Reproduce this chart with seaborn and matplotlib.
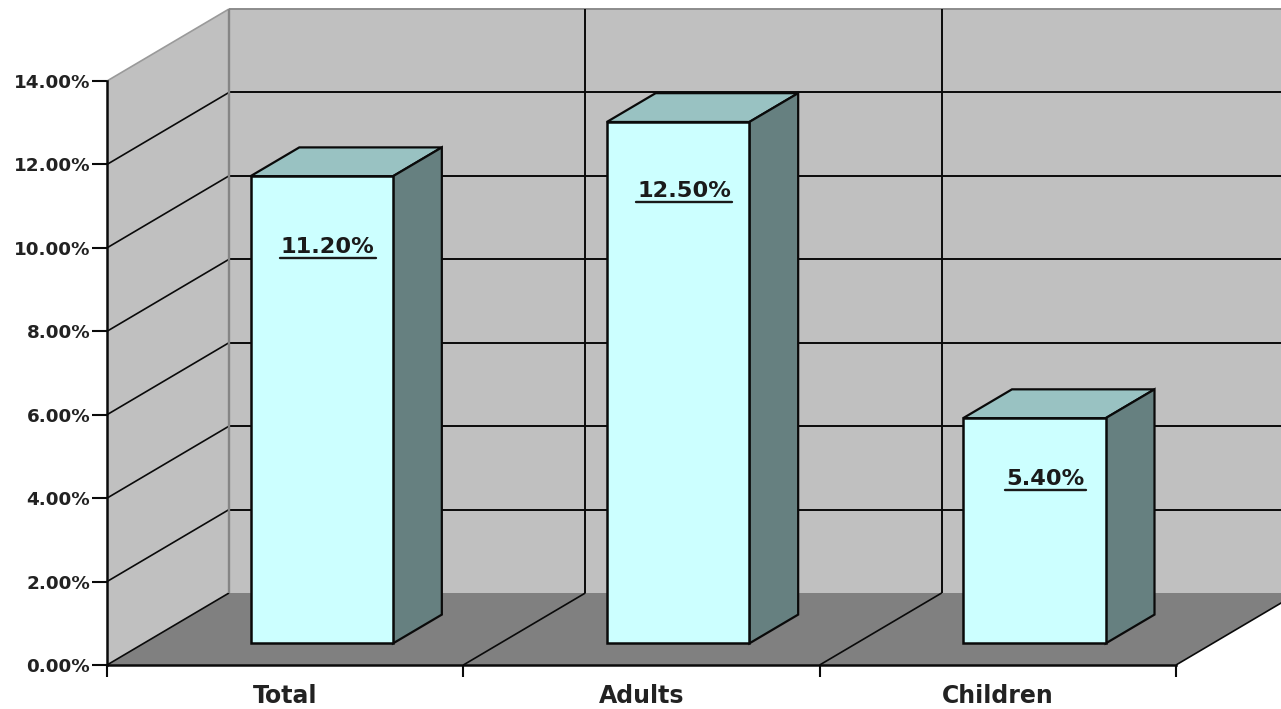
import matplotlib
matplotlib.use("Agg")
import matplotlib.pyplot as plt
import seaborn as sns
import pandas as pd
from matplotlib.patches import Polygon
from matplotlib.lines import Line2D
from matplotlib.transforms import Affine2D, IdentityTransform

categories = ["Total", "Adults", "Children"]
values = [11.2, 12.5, 5.4]
value_labels = ["11.20%", "12.50%", "5.40%"]
y_ticks = [0, 2, 4, 6, 8, 10, 12, 14]

W, H = 1281, 709
FONT = "DejaVu Sans"
BLACK = "#0a0a0a"
WALL = "#C0C0C0"
FLOOR = "#808080"
FRONT = "#CCFFFF"
TOP = "#99C2C2"
SIDE = "#668080"

sns.set_theme(style="white")
plt.rcParams["font.family"] = [FONT]

fig = plt.figure(figsize=(W / 100, H / 100), dpi=100, facecolor="white")
ax = fig.add_axes([107 / W, (H - 665) / H, (1176 - 107) / W, (665 - 81) / H])
ax.patch.set_alpha(0)

df = pd.DataFrame({"category": categories, "value": values})
sns.barplot(data=df, x="category", y="value", color=FRONT, saturation=1, width=0.4,
            edgecolor=BLACK, linewidth=1.8, ax=ax, zorder=5)

ax.set_xlim(-0.5, 2.5)
ax.set_ylim(0, 14)

# depth vector in data units: full depth = 122 px right, 72 px up
DX = 122 / ((1176 - 107) / 3)
DY = 72 / ((665 - 81) / 14)
NEAR, FAR = 0.3, 0.7


def P(x, y, d):
    return (x + d * DX, y + d * DY)


def poly(pts, fc, z, ec="none", lw=0):
    ax.add_patch(Polygon(pts, closed=True, facecolor=fc, edgecolor=ec, linewidth=lw,
                         zorder=z, clip_on=False, joinstyle="miter"))


def line(a, b, color=BLACK, lw=1.4, z=1):
    ax.add_line(Line2D([a[0], b[0]], [a[1], b[1]], color=color, linewidth=lw,
                       zorder=z, clip_on=False, solid_capstyle="butt"))


x0, x1 = ax.get_xlim()
ymax = y_ticks[-1]

# walls and floor
poly([P(x0, 0, 1), P(x1, 0, 1), P(x1, ymax, 1), P(x0, ymax, 1)], WALL, 0.2)
poly([P(x0, 0, 0), P(x0, 0, 1), P(x0, ymax, 1), P(x0, ymax, 0)], WALL, 0.3)
poly([P(x0, 0, 0), P(x1, 0, 0), P(x1, 0, 1), P(x0, 0, 1)], FLOOR, 0.4)

# gridlines on the walls
for y in y_ticks:
    col = "#8c8c8c" if y == ymax else BLACK
    if y > 0:
        line(P(x0, y, 1), P(x1, y, 1), col)
    line(P(x0, y, 0), P(x0, y, 1), "#9a9a9a" if y == ymax else BLACK, 1.2)
for k in range(len(categories) + 1):
    xb = x0 + k
    if k > 0:
        line(P(xb, 0, 0), P(xb, 0, 1), BLACK, 1.2)
    line(P(xb, 0, 1), P(xb, ymax, 1), "#858585" if k == 0 else BLACK, 1.7 if k == 0 else 1.4)

# solid bar faces: seaborn's front bars are pushed back along the depth vector
shift = Affine2D().translate(NEAR * DX, NEAR * DY) + ax.transData
for bar, v in zip(ax.patches, values):
    l, r = bar.get_x(), bar.get_x() + bar.get_width()
    bar.set_transform(shift)
    bar.set_clip_on(False)
    poly([P(l, v, NEAR), P(r, v, NEAR), P(r, v, FAR), P(l, v, FAR)], TOP, 4, BLACK, 1.6)
    poly([P(r, 0, NEAR), P(r, 0, FAR), P(r, v, FAR), P(r, v, NEAR)], SIDE, 4, BLACK, 1.6)

# data labels
label_offsets = [(6, -71), (6, -69), (11, -61)]
texts = []
for i, (v, s) in enumerate(zip(values, value_labels)):
    px, py = P(i, v, NEAR)
    t = ax.annotate(s, xy=(px, py), xytext=label_offsets[i], textcoords="offset pixels",
                    ha="center", va="center", fontsize=16.2, fontweight="bold",
                    color="#1a1a1a", zorder=6, annotation_clip=False, family=FONT)
    texts.append(t)

# axes furniture
ax.set_xlabel("")
ax.set_ylabel("")
sns.despine(ax=ax)
for side in ("left", "bottom"):
    ax.spines[side].set_color(BLACK)
    ax.spines[side].set_linewidth(1.8)
    ax.spines[side].set_zorder(3)
ax.set_yticks(y_ticks)
ax.set_yticklabels([f"{y:.2f}%" for y in y_ticks], fontsize=13.2, fontweight="bold",
                   color="#222222")
ax.set_xticks(range(len(categories)))
ax.set_xticklabels(categories, fontsize=17, fontweight="bold", color="#222222")
ax.set_xticks([x0 + k for k in range(len(categories) + 1)], minor=True)
ax.tick_params(axis="y", which="major", left=True, length=10.8, width=1.5, color=BLACK, pad=1.2)
ax.tick_params(axis="x", which="major", bottom=False, length=0, pad=13.5)
ax.tick_params(axis="x", which="minor", bottom=True, length=8.6, width=1.5, color=BLACK)

# underlines measured from the rendered labels
fig.canvas.draw()
for t in texts:
    bb = t.get_window_extent()
    fig.add_artist(Line2D([bb.x0 - 1, bb.x1 + 1], [bb.y0 - 1, bb.y0 - 1], color="#1a1a1a",
                          linewidth=1.7, transform=IdentityTransform(), zorder=10))

fig.savefig("out.png", dpi=100, facecolor="white")
